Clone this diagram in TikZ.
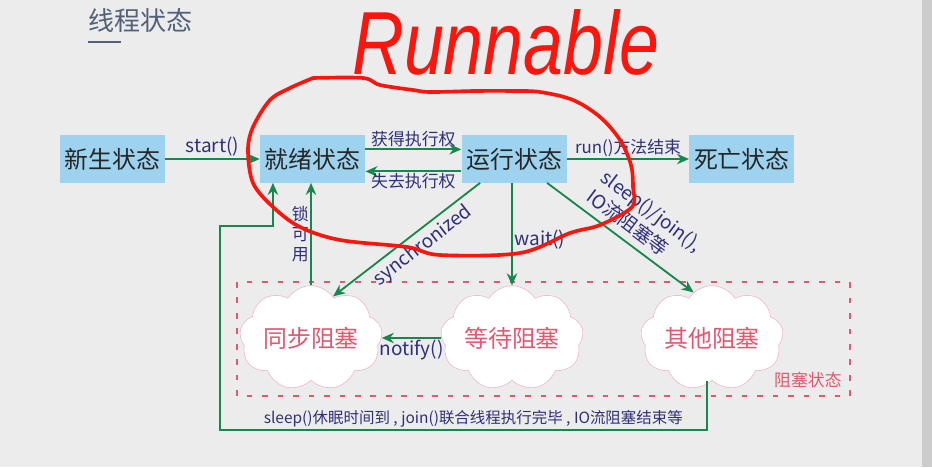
\documentclass[tikz,border=0pt]{standalone}
\usepackage{fontspec}
\setmainfont{Noto Sans CJK SC}
\newfontfamily\handfont{Liberation Sans}
\usetikzlibrary{shapes.symbols, arrows.meta, positioning}
\definecolor{boxblue}{RGB}{158,211,240}
\definecolor{arrowgreen}{RGB}{22,136,78}
\definecolor{labelnavy}{RGB}{48,48,122}
\definecolor{blockpink}{RGB}{226,88,112}
\definecolor{titlegray}{RGB}{82,96,120}
\definecolor{bggray}{RGB}{236,236,236}
\definecolor{penred}{RGB}{250,22,12}
\tikzstyle{state} = [rectangle, fill=boxblue, minimum width=2.63cm, minimum height=1.18cm, font=\fontsize{17}{20}\selectfont, text=black!85]
\tikzstyle{block} = [cloud, cloud puffs=9, cloud puff arc=115, aspect=1.6, draw=blockpink!45, fill=white, minimum width=3.15cm, minimum height=2.05cm, inner sep=0pt, font=\fontsize{17}{20}\selectfont, text=blockpink]
\tikzstyle{arrow} = [line width=1.3pt, draw=arrowgreen, -{Stealth[length=3mm,width=2.6mm]}]
\tikzstyle{tag} = [font=\fontsize{12}{14}\selectfont, text=labelnavy, inner sep=1pt]
\tikzstyle{code} = [font=\fontsize{13.5}{17}\selectfont, text=labelnavy, inner sep=1pt]

\begin{document}
\begin{tikzpicture}[x=0.025cm, y=-0.025cm, node distance=5cm]
    \fill[bggray] (0,0) rectangle (932,467);
    \fill[black!20] (922,0) rectangle (932,467);
    \useasboundingbox (0,0) rectangle (932,467);

    % title
    \node (title) [anchor=west, inner sep=0pt, text=titlegray, font=\fontsize{18.5}{20}\selectfont] at (88,21) {线程状态};
    \draw[line width=2pt, draw=titlegray] (88,42) -- (121,42);

    % states
    \node (new) [state] at (112.5,159) {新生状态};
    \node (ready) [state, right of=new] {就绪状态};
    \node (run) [state, right of=ready, xshift=0.04cm] {运行状态};
    \node (dead) [state, right of=run, xshift=0.69cm] {死亡状态};

    % blocked area
    \draw[blockpink, line width=1.6pt, dash pattern=on 4pt off 7pt] (237,282) rectangle (850,396);
    \node (blocked) [anchor=south east, inner sep=0pt, text=blockpink, font=\fontsize{12}{14}\selectfont] at (842,388) {阻塞状态};
    \node (sync) [block] at (311,338) {同步阻塞};
    \node (wait) [block] at (512,338) {等待阻塞};
    \node (other) [block] at (712,338) {其他阻塞};

    % Edges
    \draw[arrow] (new) -- node[code, above] {start()} (ready);
    \draw[arrow] ([yshift=0.24cm]ready.east) -- node[tag, above] {获得执行权} ([yshift=0.24cm]run.west);
    \draw[arrow] ([yshift=-0.31cm]run.west) -- node[tag, below] {失去执行权} ([yshift=-0.31cm]ready.east);
    \draw[arrow] (run) -- node[tag, above] {run()方法结束} (dead);
    \draw[arrow] ([xshift=0.47cm]run.south west) -- node[code, sloped, below=2pt, pos=0.45] {synchronized} (sync.62);
    \draw[arrow] (run.south -| wait) -- node[code, right, pos=0.55] {wait()} (wait.north);
    \draw[arrow] ([xshift=-0.5cm]run.south east) -- node[code, sloped, above=4pt, pos=0.55, align=left] {sleep()/join(),\\IO流阻塞等} (other.112);
    \draw[arrow] (sync.north) -- node[tag, left, align=center] {锁\\可\\用} (ready.south -| sync.north);
    \draw[arrow] (wait.west) -- node[code, below] {notify()} (sync.east);

    % back to ready
    \coordinate (lowleft) at (220,430);
    \coordinate (upleft) at (220,226);
    \draw[arrow] ([xshift=-0.12cm]other.south) |- node[tag, above, pos=0.74, font=\fontsize{11}{13}\selectfont] {sleep()休眠时间到 , join()联合线程执行完毕 , IO流阻塞结束等} (lowleft)
        -- (upleft) -| ([xshift=-0.99cm]ready.south);

    % red pen
    \draw[penred, line width=2.6pt, line cap=round, line join=round] plot[smooth, tension=0.55] coordinates {
        (313,78) (363,78) (380,85) (413,90) (430,92) (475,91) (513,91) (540,92) (573,100) (600,117)
        (620,140) (631,165) (633,187) (632,207) (600,225) (570,233) (520,253) (440,255) (407,247)
        (340,240) (300,227) (273,207) (253,183) (248,150) (253,127) (270,100) (290,88) (313,78)};
    \node (hand) [anchor=base west, inner sep=0pt, text=penred, font=\handfont\itshape\fontsize{51}{51}\selectfont] at (352,74) {\scalebox{1}[1.25]{Runnable}};
\end{tikzpicture}
\end{document}
